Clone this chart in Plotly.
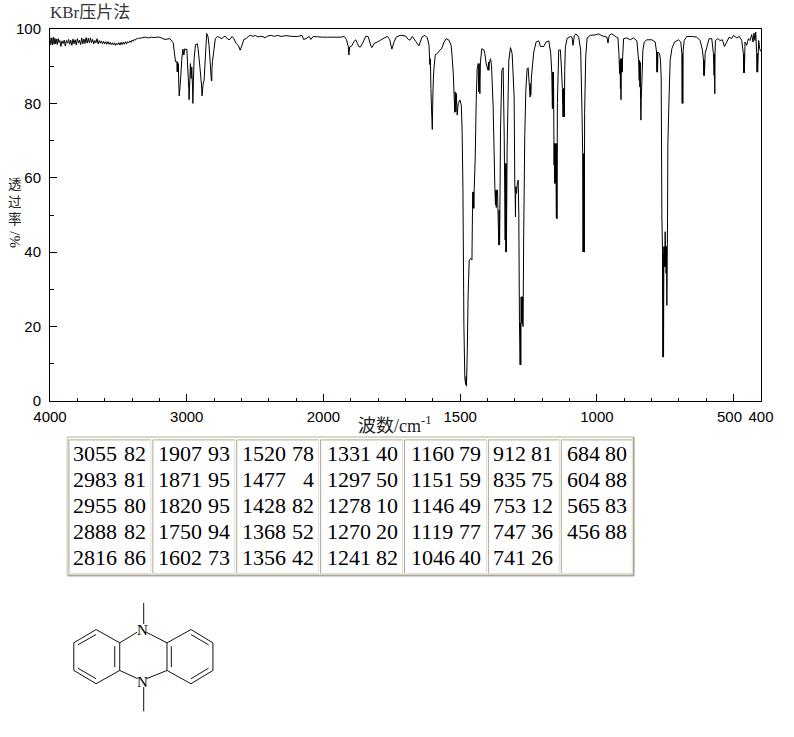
import plotly.graph_objects as go

title_text = "KBr压片法"
x_title = "波数/cm<sup>-1</sup>"
y_title_chars = ["透", "过", "率"]
y_title_unit = "%/"

noise_region = [
(4000,97.7),(3994,95.8),(3988,97.6),(3982,95.7),(3976,97.8),(3970,95.9),(3964,97.5),(3958,96.0),(3952,97.3),(3946,95.8),
(3940,97.4),(3934,96.4),(3928,96.9),(3920,95.3),(3912,96.8),(3904,96.1),(3896,97.0),(3888,95.4),(3880,96.9),(3872,96.2),
(3864,97.2),(3856,95.9),(3848,97.0),(3840,95.6),(3832,97.3),(3824,96.0),(3816,97.1),(3808,95.7),(3800,97.4),(3792,96.2),
(3784,97.0),(3776,95.8),(3768,97.6),(3760,96.0),(3752,97.3),(3744,96.1),(3736,97.7),(3728,96.2),(3720,97.5),(3712,96.3),
(3704,97.6),(3696,96.3),(3688,97.2),(3680,96.0),(3672,96.9),(3664,96.3),(3656,97.4),(3648,96.0),(3640,96.9),(3632,96.2),
(3624,96.8),(3616,96.0),(3608,96.7),(3600,96.0),(3592,96.6),(3584,95.9),(3576,96.6),(3568,95.9),(3560,96.4),(3552,95.8),
(3544,96.3),(3536,95.7),(3528,96.3),(3520,95.6),(3512,96.2),(3504,95.8),(3496,96.3),(3488,95.7),(3480,96.4),(3472,95.8),
(3464,96.5),(3456,95.9),(3448,96.6),(3440,96.0),(3432,96.6),(3424,96.3),(3416,96.8),(3408,96.4),(3400,97.0),(3392,96.7),
(3384,97.2),(3376,97.0),(3368,97.4),(3360,97.3),(3352,97.6),(3340,97.5),(3320,97.7),(3300,97.8),(3280,97.6),(3260,97.8),
(3240,97.7),(3220,97.8),(3200,97.8),(3180,97.5),
]
ch_region = [
(3159,97.2),(3123,97.4),(3099,96.3),(3082,91.2),(3072,91.2),(3070,88.5),(3067,91.2),(3065,88.5),(3062,90.7),(3058,84.9),
(3055,82),(3048,84.9),(3043,87.6),(3036,92),(3028,94.6),(3021,93),(3014,94.7),(3007,94.4),(2999,94.6),(2990,87.6),
(2985,84),(2983,81),(2977,86.7),(2973,90.7),(2968,86.7),(2963,89.8),(2958,84.9),(2955,80),(2951,85.8),(2946,92),
(2936,95.8),(2922,96),(2917,94.7),(2905,90.3),(2892,84.9),(2888,82),(2880,85.3),(2873,86.2),(2863,93),(2854,98.8),
(2844,97.9),(2837,95.6),(2827,90.3),(2820,86.2),(2817,86),(2815,89.4),(2812,91.2),(2800,94.7),(2791,97.4),(2776,98),
(2759,97.7),(2742,97.4),(2728,98),(2716,98),(2698,97.2),(2684,97.2),(2669,98),(2655,97.4),(2638,96.1),(2621,95.5),
(2609,94.3),(2597,95.5),(2582,97.2),(2565,97.4),(2548,98.1),(2533,98.3),(2514,98),(2499,98.3),(2480,97.9),(2461,98),
(2436,97.9),(2432,97.6),(2407,98.1),(2383,98.3),(2359,98),(2335,98.3),(2310,98),(2274,98.2),(2225,98),(2189,98),
(2157,98.3),(2145,97.2),(2128,97.4),(2104,98),(2092,97.2),(2075,98),(2043,97.9),(2007,97.8),
]
overtone_region = [
(1985,97.8),(1961,97.8),(1937,97.8),(1924,98),(1916,97.2),(1909,95.2),(1907,93),(1904,95.2),(1896,95.5),(1888,96.7),
(1882,97.1),(1876,96.1),(1870,95.2),(1864,95.2),(1855,96.5),(1845,98.1),(1836,97.9),(1827,95.5),(1823,95),(1815,96.1),
(1803,96.5),(1791,97),(1778,97.6),(1766,98),(1758,97.2),(1750,94.6),(1742,96.5),(1733,97.9),(1718,98.3),(1699,98.1),
(1690,97.2),(1684,97),(1675,98),(1663,96.7),(1651,95.5),(1639,97.9),(1629,98.3),(1620,97.6),(1614,95.6),(1611,90.4),
(1609,92),(1607,84),(1604.5,77.7),(1603,75),(1602,73),(1600,82),(1598,86.7),(1596,89.4),(1591,93.1),(1584,93.4),
(1575,94.3),(1568,94.7),(1559,96.5),(1551,97.4),(1541,97),(1533,95.5),(1529,92),(1525,87.6),(1523,83.6),(1520,77.6),
(1518,83.1),(1516,77.7),(1514,82.7),(1511,76.9),(1507,80),(1501,80.9),(1496,79.5),
]
fingerprint_high = [
(1493,72.8),(1490,57.1),(1486.5,20.5),(1483,6.2),(1480,4.4),(1478,6.6),(1477,4),(1474,13.8),(1471,28.5),(1467,37.9),
(1461,38.3),(1457,37.9),(1455,51.8),(1454,56.2),(1452.4,51.8),(1451,56.2),(1450,51.8),(1449,56.2),(1445,65.6),(1441.4,80.8),
(1438,89.3),(1434,90.7),(1432,83.1),(1430.5,90.7),(1428,82.6),(1426,91.1),(1421,94.7),(1413.4,94.4),(1410,93.4),(1405,90.7),
(1398,88.9),(1396.4,91.1),(1395,88.9),(1393,91.1),(1389,92),(1385.5,90.2),(1379.4,79),(1373.3,57.6),(1371,52.7),(1369.6,56.7),
(1368,52),(1367,56.7),(1363.6,56.7),(1361,48.6),(1358.7,41.9),(1357.5,51.3),(1356,42),(1355,48.6),(1352.6,72.8),(1347.7,88.9),
(1342.9,89.6),(1339,71),(1335.6,43.3),(1334,63.8),(1333,40.1),(1332,63.8),(1331,40),(1328.3,68.3),(1322.2,91.6),(1316,95),
(1310,93.4),(1302.7,81.7),(1300.3,58),(1299,55.8),(1297.9,49.5),(1296.6,57.6),(1294,55.8),(1291.8,58),(1288,59.4),(1285.7,50.4),
(1283.3,21.4),(1280.8,9.7),(1279.6,20.9),(1278.4,9.7),(1277,28),(1276,20.9),(1274.7,28),(1273.5,20.9),(1272,28),(1271,20.9),
(1270,20),(1268,43),(1263.8,71.4),(1260,83.5),(1255.3,89.3),(1251.6,89.6),(1246.8,84.4),(1244.3,81.7),(1243,85.3),(1241.9,82.2),
(1239.5,87.1),(1231,93.8),(1222.4,96.5),(1212.7,96.8),(1206.6,95.3),(1194.4,95.3),(1186,96.5),(1176,96.8),
]
fingerprint_mid = [
(1168.9,93.4),(1165.2,88.4),(1162.8,78.6),(1161.6,88.4),(1160.4,78.6),(1159,88.4),(1158,78.6),(1156.7,63.4),(1155.5,69.2),(1154.3,58.5),
(1153,69.2),(1151.9,58.5),(1150.6,69.2),(1149.4,58.5),(1148.2,49.1),(1147,69.2),(1146,49),(1144.6,80),(1139.7,94.3),(1133.6,94.4),
(1130,89.8),(1126.3,84),(1123.9,76.4),(1122.6,84),(1121.4,76.4),(1120,84),(1119,76.4),(1117.8,88.9),(1115.4,95.1),(1109.3,97.4),
(1097,98),(1091,97.8),(1087.4,95.6),(1082.5,98.3),(1076.4,98.7),(1066.7,97.8),(1059.4,94.3),(1054.5,77.3),(1052,66.5),(1050.8,40.1),
(1049.6,66.5),(1048.4,40.1),(1047,66.5),(1046,40),(1045,77.3),(1041,92.5),(1036,97.6),(1024,98.3),(1006,98.4),(994,98.7),
(981.5,98.2),(963.3,97.8),(959.6,96.2),(954.8,98.3),(945,98.7),(932.9,98),(923.1,97.6),(919.5,93.4),(917,88),(915,91.6),
(914,84),(913,92),(912,81),(911,92),(909.7,88.4),(908.5,92),(907.3,88.4),(906,92.5),(902.4,97.4),(890.3,97.6),
(878,97.1),(866,97.6),(853.8,96.8),(847.7,91.6),(845.3,86.2),(844,91.6),(842.8,84.4),(841.6,91),(840.4,80.8),(839.2,75.5),
(838,80.8),(835.5,86.2),(831.9,94.3),(827,96.5),(817.3,97.1),(799,97.1),(786.9,96.5),(782,93.8),(780.8,88.4),(779.6,93.8),
(778.3,88.4),(777.1,93.8),(771,93.4),(767.4,91.6),
]
fingerprint_low = [
(765,86.6),(762.5,49.5),(760,39.7),(758.9,11.8),(757.6,39.7),(756.4,11.8),(755.2,41.5),(754,36.1),(752.8,41.5),(751.6,36.1),
(750.4,45.5),(749,36),(748,41.5),(747,34.3),(746,41.5),(745,34.3),(744.3,25.7),(741.8,48.6),(740.6,69.2),(735.8,82.6),
(732.1,91.6),(726,94.7),(716.3,96.5),(701.7,97.1),(693.2,96.5),(689.5,93.4),(688.3,80),(687,93.4),(685.9,80),(684.7,94.3),
(681,96.9),(671.3,98),(653,98),(634.8,97.8),(622.6,96.9),(614.1,94.3),(610.4,91.6),(609.2,87.5),(608,91.6),(606.8,87.5),
(604.3,93.4),(598.3,95.1),(589.8,97.4),(580,97.4),(574,93.4),(571.5,87.5),(570.3,93.4),(569,82.6),(568,93.4),(566.6,96.9),
(558,97.4),(549.6,96.9),(541.1,97.1),(533.8,95.3),(525.3,96.5),(516.7,97.8),(507,97.4),(501,98.3),(488.8,97.6),(479,98),
(470.5,96.9),(464.4,93.4),(463.2,88.2),(462,93.4),(460.8,88.2),(458.4,96.5),(452.3,95.6),(446.2,97.4),(440.1,96.9),(434,98.5),
(429.2,96.5),(425.5,98.9),(421.9,96.9),(419.4,99.2),(415.8,93.4),(414.6,88.4),(413.4,93.4),(412.2,88.4),(408.5,96.9),(404.8,94.7),(401,94),
]

major_wavenumbers = [4000, 3000, 2000, 1500, 1000, 500, 400]
major_labels = ["4000", "3000", "2000", "1500", "1000", "500\u00a0\u00a0", "400"]
minor_wavenumbers = [3800, 3600, 3400, 3200, 2800, 2600, 2400, 2200, 1900, 1800, 1700, 1600, 1400, 1300, 1200,
                     1100, 900, 800, 700, 600]
y_major = [0, 20, 40, 60, 80, 100]
y_minor = [10, 30, 50, 70, 90]

peak_columns = [
    [("3055", "82"), ("2983", "81"), ("2955", "80"), ("2888", "82"), ("2816", "86")],
    [("1907", "93"), ("1871", "95"), ("1820", "95"), ("1750", "94"), ("1602", "73")],
    [("1520", "78"), ("1477", "4"), ("1428", "82"), ("1368", "52"), ("1356", "42")],
    [("1331", "40"), ("1297", "50"), ("1278", "10"), ("1270", "20"), ("1241", "82")],
    [("1160", "79"), ("1151", "59"), ("1146", "49"), ("1119", "77"), ("1046", "40")],
    [("912", "81"), ("835", "75"), ("753", "12"), ("747", "36"), ("741", "26")],
    [("684", "80"), ("604", "88"), ("565", "83"), ("456", "88")],
]


def axis_pos(w):
    # the instrument chart doubles its scale below 2000 cm-1
    return (w - 2000) * 0.5 if w >= 2000 else (w - 2000)


W, H = 794, 737
L, R, T, B = 49.5, 761.5, 28.5, 401.5
px = lambda x: (x - L) / (R - L)
py = lambda y: (B - y) / (B - T)

spectrum = noise_region + ch_region + overtone_region + fingerprint_high + fingerprint_mid + fingerprint_low

fig = go.Figure(go.Scatter(
    x=[axis_pos(p[0]) for p in spectrum],
    y=[p[1] for p in spectrum],
    mode="lines",
    line=dict(color="#000000", width=1.0, simplify=False),
    hoverinfo="skip",
))

shapes = []
annots = []


def seg(x0, y0, x1, y1, color="#000000", width=1.0):
    shapes.append(dict(type="line", xref="paper", yref="paper", x0=px(x0), y0=py(y0), x1=px(x1), y1=py(y1),
                       line=dict(color=color, width=width)))


def text(x, y, s, size, family, xanchor="left", angle=0, color="#000000"):
    annots.append(dict(xref="paper", yref="paper", x=px(x), y=py(y), text=s, showarrow=False, xanchor=xanchor,
                       yanchor="middle", textangle=angle, borderpad=0, borderwidth=0,
                       font=dict(size=size, family=family, color=color)))


CJK = "Liberation Serif, Noto Sans CJK SC"
text(50, 12, title_text, 17, CJK, color="#333333")
text(395, 425, x_title, 18, CJK, xanchor="center", color="#222222")
text(14.5, 202, "<br>".join(y_title_chars), 13.5, CJK, xanchor="center", color="#222222")
text(14.5, 240, y_title_unit, 15, "Liberation Serif", xanchor="center", angle=-90, color="#222222")

# peak table
cell_lefts = [68.5, 152.5, 236.5, 320.5, 404.5, 488.5, 561.5]
cell_rights = [150.5, 234.5, 318.5, 402.5, 486.5, 559.5, 632.5]
text_lefts = [73, 157.5, 242, 326.5, 411, 493, 567]
text_rights = [145.5, 229.5, 313.5, 397.5, 481.5, 553.5, 627.5]
row_centers = [454, 480, 506, 532, 558]
tab_top, tab_bottom, cell_top, cell_bottom = 437.5, 576.5, 440.5, 574.5
seg(67, tab_top, 634, tab_top, "#DAD7C8", 2)
seg(67, tab_top, 67, tab_bottom, "#DAD7C8", 2)
seg(67, tab_bottom, 634.5, tab_bottom, "#ACA899", 2)
seg(634, tab_top, 634, tab_bottom, "#ACA899", 2)
for c in range(7):
    a, b = cell_lefts[c], cell_rights[c]
    seg(a, cell_top, b, cell_top, "#ACA899")
    seg(a, cell_top, a, cell_bottom, "#ACA899")
    seg(a, cell_bottom, b, cell_bottom, "#E2DFD0")
    seg(b, cell_top, b, cell_bottom, "#E2DFD0")
    for r, (wn, tr) in enumerate(peak_columns[c]):
        text(text_lefts[c], row_centers[r], wn, 22, "Liberation Serif")
        text(text_rights[c], row_centers[r], tr, 22, "Liberation Serif", xanchor="right")

# structure drawing
mx = lambda v: 60 + v / 3
my = lambda v: 590 + v / 3
bonds = [
    (107, 122, 178, 162), (178, 162, 178, 245), (178, 245, 107, 285), (107, 285, 40, 245), (40, 245, 40, 162), (40, 162, 107, 122),
    (320, 162, 392, 122), (392, 122, 458, 162), (458, 162, 458, 245), (458, 245, 392, 285), (392, 285, 320, 245), (320, 245, 320, 162),
    (163, 172, 163, 235), (52, 168, 107, 137), (52, 238, 107, 270),
    (333, 172, 333, 235), (392, 137, 445, 168), (392, 270, 445, 238),
    (178, 162, 230, 130), (178, 245, 232, 270), (258, 130, 320, 162), (258, 270, 320, 245),
    (250, 42, 250, 105), (250, 295, 250, 368),
]
for b in bonds:
    seg(mx(b[0]), my(b[1]), mx(b[2]), my(b[3]), "#111111", 1)
text(mx(245), my(122), "N", 15, "Liberation Serif", xanchor="center")
text(mx(245), my(279), "N", 15, "Liberation Serif", xanchor="center")

tick_font = dict(family="Liberation Sans", size=15, color="#000000")
fig.update_layout(
    width=W, height=H, autosize=False,
    margin=dict(l=L, r=W - R, t=T, b=H - B, pad=0),
    paper_bgcolor="#FFFFFF", plot_bgcolor="#FFFFFF",
    showlegend=False, shapes=shapes, annotations=annots,
    xaxis=dict(range=[axis_pos(4000), axis_pos(400)], showgrid=False, zeroline=False, showline=True, mirror=True,
               linecolor="#000000", linewidth=1, ticks="inside", ticklen=7, tickcolor="#000000", tickwidth=1,
               tickmode="array", tickvals=[axis_pos(v) for v in major_wavenumbers],
               ticktext=major_labels, tickangle=0, tickfont=tick_font, ticklabelstandoff=2,
               minor=dict(tickmode="array", tickvals=[axis_pos(v) for v in minor_wavenumbers], ticks="inside",
                          ticklen=3.5, tickcolor="#000000", tickwidth=1, showgrid=False)),
    yaxis=dict(range=[0, 100], showgrid=False, zeroline=False, showline=True, mirror=True,
               linecolor="#000000", linewidth=1, ticks="inside", ticklen=7, tickcolor="#000000", tickwidth=1,
               tickmode="array", tickvals=y_major, ticktext=[str(v) for v in y_major], tickfont=tick_font,
               ticklabelstandoff=5,
               minor=dict(tickmode="array", tickvals=y_minor, ticks="inside", ticklen=3.5, tickcolor="#000000",
                          tickwidth=1, showgrid=False)),
)

fig.write_html("out.html", config={"displayModeBar": False},
               post_script="document.body.style.margin='0';document.body.style.overflow='hidden';")
